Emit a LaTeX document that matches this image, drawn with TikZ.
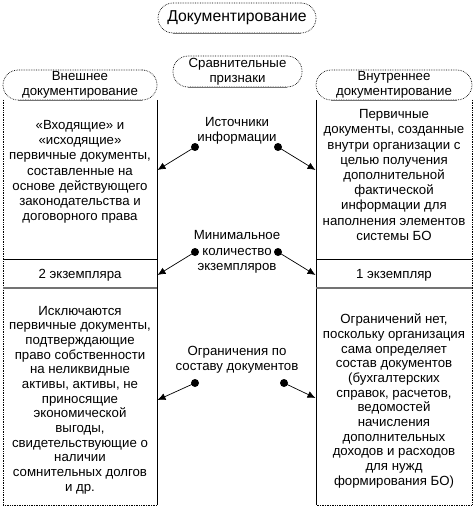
\documentclass[tikz,border=0pt]{standalone}
\usepackage{fontspec}
\setmainfont{Liberation Sans}
\usetikzlibrary{arrows.meta}
\begin{document}
\begin{tikzpicture}[x=1bp,y=-1bp,
  font=\fontsize{13.3}{15.3}\selectfont,
  dotline/.style={line width=0.7bp, densely dotted},
  solidline/.style={line width=0.7bp},
  grayline/.style={line width=1.3bp, black!55},
  stadium/.style={draw, dotline, rectangle, rounded corners=15bp, minimum height=30bp, inner sep=1bp, align=center},
  txt/.style={align=center, inner sep=0pt},
  dotn/.style={circle, fill=black, minimum size=8bp, inner sep=0pt},
  conn/.style={line width=0.7bp, -{Latex[length=8bp,width=7bp]}}
]
\useasboundingbox (0,0) rectangle (474,511);

% title nodes
\node[stadium, minimum width=158bp, font=\fontsize{15.8}{18}\selectfont] (top) at (237,18) {Документирование};
\draw[grayline] ([xshift=15bp]top.south west) -- ([xshift=-15bp]top.south east);
\node[stadium, minimum width=129bp, minimum height=31bp] (cmp) at (237.5,71.5) {Сравнительные\\признаки};
\draw[grayline] ([xshift=15bp]cmp.south west) -- ([xshift=-15bp]cmp.south east);

% left column
\node[stadium, minimum width=154bp] (hl) at (80,85) {Внешнее\\документирование};
\draw[dotline] (3,100) -- (3,505) -- (157,505);
\draw[solidline] (157,100) -- (157,505);
\draw[solidline] (3,259) -- (157,259);
\draw[grayline] (3,288) -- (157,288);
\draw[grayline] ([xshift=15bp]hl.south west) -- ([xshift=-15bp]hl.south east);

% right column
\node[stadium, minimum width=156bp] (hr) at (394,85) {Внутреннее\\документирование};
\draw[dotline] (472,100) -- (472,505) -- (316,505);
\draw[solidline] (316,100) -- (316,505);
\draw[solidline] (316,259) -- (472,259);
\draw[grayline] (316,288) -- (472,288);
\draw[grayline] ([xshift=15bp]hr.south west) -- ([xshift=-15bp]hr.south east);

% cell texts
\node[txt] (L1) at (80,172) {«Входящие» и\\«исходящие»\\первичные документы,\\составленные на\\основе действующего\\законодательства и\\договорного права};
\node[txt] (R1) at (394,175) {Первичные\\документы, созданные\\внутри организации с\\целью получения\\дополнительной\\фактической\\информации для\\наполнения элементов\\системы БО};
\node[txt] (L2) at (80,275) {2 экземпляра};
\node[txt] (R2) at (394,275) {1 экземпляр};
\node[txt, font=\fontsize{13.3}{14.7}\selectfont] (L3) at (80,400) {Исключаются\\первичные документы,\\подтверждающие\\право собственности\\на неликвидные\\активы, активы, не\\приносящие\\экономической\\выгоды,\\свидетельствующие о\\наличии\\сомнительных долгов\\и др.};
\node[txt, font=\fontsize{13.3}{14.7}\selectfont] (R3) at (394,401) {Ограничений нет,\\поскольку организация\\сама определяет\\состав документов\\(бухгалтерских\\справок, расчетов,\\ведомостей\\начисления\\дополнительных\\доходов и расходов\\для нужд\\формирования БО)};

% comparison criteria
\node[txt] (c1) at (237,131) {Источники\\информации};
\node[txt] (c2) at (237,252) {Минимальное\\количество\\экземпляров};
\node[txt] (c3) at (237,360) {Ограничения по\\составу документов};

% dots
\node[dotn] (d1l) at (195,147) {};
\node[dotn] (d1r) at (278,147) {};
\node[dotn] (d2l) at (195,252) {};
\node[dotn] (d2r) at (278,252) {};
\node[dotn] (d3l) at (195,383) {};
\node[dotn] (d3r) at (284,383) {};

% arrow targets on box edges
\coordinate (a1l) at (157.5,170);
\coordinate (a1r) at (315.5,170);
\coordinate (a2l) at (157.5,275);
\coordinate (a2r) at (315.5,275);
\coordinate (a3l) at (157.5,400);
\coordinate (a3r) at (315.5,398);

\draw[conn] (d1l.center) -- (a1l);
\draw[conn] (d1r.center) -- (a1r);
\draw[conn] (d2l.center) -- (a2l);
\draw[conn] (d2r.center) -- (a2r);
\draw[conn] (d3l.center) -- (a3l);
\draw[conn] (d3r.center) -- (a3r);
\end{tikzpicture}
\end{document}
